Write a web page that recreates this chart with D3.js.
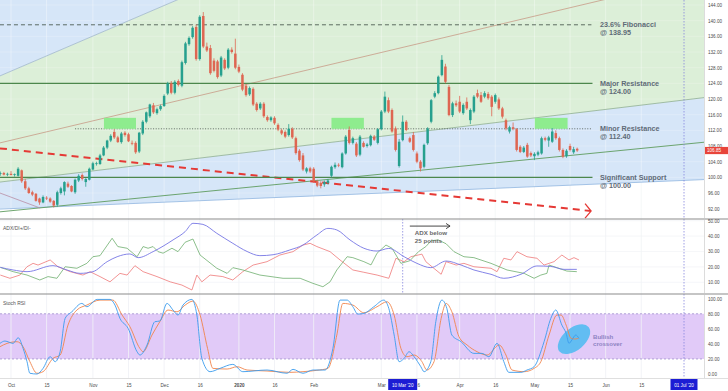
<!DOCTYPE html>
<html><head><meta charset="utf-8">
<script src="https://cdn.jsdelivr.net/npm/d3@7"></script>
<style>html,body{margin:0;padding:0;background:#fff;overflow:hidden}svg{display:block}</style>
</head><body><svg id="c" width="728" height="391"></svg>
<script>
// ---------- DATA (trading-day index: 0 = 1 Oct 2019) ----------
const firstDay = -3;
const opens = [100.9,101.1,100.7,100.9,100.6,100.4,101.8,99.0,97.2,96.2,
95.8,94.6,93.6,94.8,94.6,94.0,93.0,96.0,96.4,98.4,
97.8,96.2,99.2,100.6,98.8,99.4,102.0,103.4,103.4,105.6,
107.6,109.4,111.6,110.2,109.0,111.4,111.0,108.8,108.8,106.6,
111.2,114.2,115.6,118.4,116.4,117.4,118.2,121.4,124.0,121.6,
124.6,123.4,129.2,134.0,135.8,138.4,130.2,141.2,133.4,133.0,
129.8,129.6,126.0,130.0,128.0,132.6,131.6,128.2,126.2,123.4,
121.2,122.6,118.8,117.6,118.8,115.4,114.6,115.2,113.4,112.0,
111.6,110.8,112.4,110.0,106.8,105.6,101.5,102.3,102.2,99.0,
98.6,98.2,98.6,100.4,102.6,103.2,102.6,106.1,112.1,108.8,
108.6,105.8,108.8,108.0,108.2,110.4,108.8,112.3,116.8,119.7,
117.2,112.5,102.9,109.5,114.2,110.0,110.8,106.1,104.0,102.7,
108.7,114.2,120.6,121.5,126.1,128.3,123.1,115.9,118.9,119.3,
116.4,119.3,114.6,116.8,121.5,121.0,120.6,121.3,120.6,119.3,
119.9,117.6,114.6,111.7,112.8,112.3,107.8,106.5,108.3,106.2,
105.4,105.8,106.1,110.0,109.4,109.1,111.3,110.0,107.0,105.4,
108.0,106.4,107.3];
const highs = [101.5,101.4,101.2,101.6,101.0,102.6,102.0,99.6,97.6,96.6,
96.0,94.8,95.4,95.2,94.9,94.2,96.6,97.6,99.0,98.9,
98.0,99.7,100.8,101.0,99.8,102.5,104.0,104.0,106.0,108.0,
109.6,111.0,112.3,110.6,111.6,111.8,111.4,109.4,109.2,111.6,
114.6,116.8,118.8,119.0,117.8,118.6,121.2,124.4,124.6,124.8,
125.0,129.8,134.6,136.0,138.6,139.0,141.4,142.2,134.4,133.8,
130.4,130.0,131.0,130.4,133.0,133.2,135.4,128.8,126.6,123.8,
123.2,123.0,119.2,119.2,119.2,115.8,115.6,115.6,113.8,112.4,
112.0,113.6,112.8,110.4,107.2,106.2,102.6,102.7,102.6,99.4,
99.0,99.2,99.6,103.0,103.8,103.6,106.4,110.8,113.0,110.4,
109.0,110.8,109.2,108.8,110.9,110.8,112.6,117.2,121.9,120.4,
117.6,113.0,109.8,115.8,114.6,110.4,111.6,106.6,104.4,108.6,
112.8,120.0,122.0,126.0,131.2,129.0,123.6,119.3,119.6,120.8,
118.9,120.4,117.6,121.0,122.4,121.8,122.0,121.8,121.0,121.4,
120.4,118.0,115.0,113.2,114.0,112.6,108.2,108.0,108.8,106.6,
106.4,106.8,110.4,110.4,110.6,112.6,112.0,110.4,107.4,107.2,
108.6,107.8,107.6];
const lows = [100.4,100.5,100.3,100.5,100.2,100.2,98.6,96.8,95.8,95.2,
93.8,93.0,93.4,94.2,93.5,92.3,92.5,95.6,95.4,97.3,
96.2,95.8,98.8,99.2,97.6,99.2,101.8,103.0,103.2,105.4,
107.2,109.0,109.8,108.8,108.6,110.4,109.0,108.2,106.0,106.2,
110.8,113.8,115.2,116.2,116.0,117.0,118.0,121.0,121.2,121.2,
123.2,123.0,128.8,133.6,135.4,129.8,129.8,133.0,132.0,126.2,
126.8,125.2,125.6,127.4,127.6,131.6,127.6,126.6,122.0,120.6,
120.8,118.2,116.8,117.2,115.2,114.2,114.2,113.4,111.8,110.8,
110.0,110.4,109.8,105.8,104.0,101.6,101.0,101.1,98.6,97.5,
97.2,97.6,98.2,100.0,102.2,102.6,102.3,105.8,108.4,108.4,
105.2,105.4,107.6,107.6,107.9,109.3,108.4,112.0,116.4,116.4,
111.4,106.6,102.5,109.2,111.8,108.8,106.6,103.6,101.5,102.3,
108.3,113.8,120.2,121.2,125.8,124.0,115.6,115.4,118.0,116.4,
116.0,117.2,113.6,116.4,120.2,119.0,120.2,119.8,115.6,118.8,
117.2,115.0,112.0,111.2,112.0,106.6,106.2,106.2,105.0,105.2,
104.4,105.4,105.8,109.2,107.8,108.8,109.6,106.6,104.9,105.0,
106.6,106.0,106.5];
const closes = [101.1,100.7,100.9,100.6,100.8,102.2,99.0,97.2,96.0,95.6,
94.0,93.6,95.0,94.6,93.8,92.8,96.2,97.2,98.8,97.6,
96.4,99.4,100.4,99.6,99.6,102.2,103.6,103.6,105.6,107.6,
109.4,110.6,110.2,109.0,111.2,110.8,109.2,108.6,106.4,111.4,
114.2,116.6,118.6,116.6,117.4,118.2,120.8,124.0,121.6,124.4,
123.6,129.4,134.2,135.6,138.2,130.2,141.0,133.4,132.4,126.6,
127.2,125.6,130.6,127.8,132.6,132.0,128.0,127.0,122.4,121.0,
122.8,118.6,117.2,118.8,115.6,114.6,115.3,113.8,112.2,111.2,
110.4,112.4,110.2,106.2,104.4,102.0,102.3,101.5,99.0,97.9,
97.8,98.8,99.2,102.7,103.2,103.0,106.1,110.4,108.8,110.0,
105.6,110.4,107.8,108.4,110.6,109.6,112.3,116.8,120.6,116.8,
111.7,107.0,109.1,114.2,112.1,109.1,107.0,104.0,102.3,108.3,
112.5,119.7,121.5,125.7,130.0,124.4,115.9,118.9,118.4,116.8,
118.5,117.6,117.2,120.6,120.6,119.3,121.5,120.2,118.0,121.0,
117.6,115.5,112.5,112.8,112.4,107.0,106.5,107.6,105.3,105.6,
106.0,106.4,110.0,109.6,110.2,111.7,110.0,107.0,105.3,106.8,
107.0,107.2,106.85];
const lastPrice = 106.85;

// ADX / DI lines: [day, value]
const adx = [[-3,19.7],[0.6,18],[4.5,16.9],[11.8,20.8],[15.7,18],[19.4,15.8],[23,16.9],[27,23.4],[29.8,26.6],[33.4,28.4],[35.7,26],[39.9,29.9],[45.5,37.5],[48.9,42.9],[51.1,48.3],[53.9,47.6],[57.8,41.8],[62.3,35.3],[66.3,30],[69.9,27.3],[73.6,27.9],[78.3,31],[82,34.2],[85.9,40.7],[89,45],[91.5,44],[95.2,37.5],[99.1,32.1],[102.8,30.3],[106.1,32],[110.4,26.6],[114,22.3],[117.9,19.5],[122.2,23.8],[126.4,21.2],[130,18],[134.8,15.2],[138.4,12.6],[143.2,15.2],[147.7,20.6],[151.6,20.3],[155.3,18.4],[158.9,18.4]];
const diPlus = [[-3,19.7],[0.6,16.9],[4.5,14.7],[8.1,11.5],[10.4,13.7],[12.9,12.6],[15.2,20.1],[18.5,19.1],[21.3,22.3],[23,26.6],[25,27.3],[28.4,38.6],[30,33.2],[32.6,32.1],[35.4,26.6],[37.1,33.2],[38.5,32.1],[39.9,33.2],[41.3,29.9],[42.7,28.9],[45.2,32.1],[46.9,29.9],[48.9,36],[51.1,38.1],[53.1,27.7],[57.8,19.1],[60.7,15.8],[62.3,19.5],[65.1,18],[69.9,14.7],[76.4,12.6],[81.2,12.6],[84.8,9.3],[87.6,7.1],[89.6,10.3],[91.5,18],[94.4,26.6],[96,26],[99.1,23.4],[101.1,21.3],[102.8,28.9],[105.3,34.2],[107,32.1],[109.5,22.3],[112,24],[114.5,30],[116.5,33.2],[118,37],[120,37.5],[122.2,35],[124.4,29.9],[127.2,26.6],[130,26],[134.8,22.3],[139.3,18],[144.1,15.8],[146.9,12.6],[148.8,14.7],[150.5,15.8],[151.1,21.2],[153.3,19.5],[156.1,17.3],[158.9,16.9]];
const diMinus = [[-3,14.7],[-0.3,12.6],[2.5,14.7],[4.5,20.1],[6.2,22.3],[7.6,21.2],[11,24.5],[13.2,20.1],[16.6,16.9],[20.2,14.7],[22.2,16.9],[25,13.7],[27.8,10.3],[30.6,15.8],[32.6,14.7],[34.8,20.8],[37.1,16.9],[41,13.7],[44.7,10.3],[48,8.2],[50.8,5],[52.2,14.7],[53.6,10.3],[55.9,14.7],[59.5,13.7],[62.3,11.5],[65.1,16.9],[68,21.2],[71.9,23.4],[75.5,27.7],[79.2,29.9],[82,34.2],[84,35.3],[85.9,33.2],[89.6,29.9],[92.4,24.5],[96,18],[99.1,16.5],[102.8,14.7],[106.1,12.6],[108.1,25.6],[110.4,23.4],[112.3,26.6],[115.4,28.3],[116.5,23.4],[120.8,15.2],[122.2,23.4],[125,21.2],[127.2,22.3],[130,20.1],[134.8,19.1],[136.5,16.9],[138.4,25.6],[140.4,24.5],[142.1,29.9],[144.9,26.6],[147.7,25.6],[149.7,21.2],[152.5,23.4],[154.7,27.7],[156.7,24.5],[158.1,26],[159.5,24.5]];

// Stoch RSI: [day, value]
const stochK = [[-3.1,40.7],[-1.7,43.8],[0.6,40.7],[2,48.2],[3.4,34],[4.5,16.4],[5.3,1],[7.3,0],[9,7.5],[11,23],[12.4,16.4],[13.8,29.6],[15.2,73.9],[17.1,82.7],[19.9,93.8],[21.3,89.4],[24.2,99.1],[27.8,99.1],[29.2,91.6],[30.6,73.9],[32.9,60.6],[35.4,29.6],[36.2,25.2],[38.2,38.5],[40.4,69.5],[41.8,70.4],[43.8,93.8],[45.5,85],[46.9,78.3],[48.3,91.6],[50.8,99.1],[52.2,78.3],[53.6,20.8],[55.9,3.1],[58.7,7.5],[62.3,12.8],[65.1,3.1],[71.9,5.3],[77.5,1],[79.2,6.2],[82,1],[84.8,5.3],[88.2,5.3],[90.4,34],[92.4,98.2],[94.4,98.2],[96,89.4],[97.4,79.6],[99.1,80.5],[101.9,89.4],[104.7,98.2],[106.1,87.2],[107.6,51.8],[109,16.4],[110.4,20.8],[111.8,29.6],[113.2,23],[115.1,9.7],[116,3.1],[117.9,16.4],[119.3,69.5],[121,98.2],[122.4,87.2],[123.8,51.8],[126.4,42.9],[130,27.4],[132.3,27.4],[134.2,23],[136.5,40.7],[138.4,16.4],[139.8,2.2],[143.2,2.2],[144.9,5.3],[146.9,9.7],[149.7,42.9],[151.6,73.9],[153,85],[154.7,65],[155.9,54],[156.7,40.7],[157.5,45.1],[158.6,51.8],[159.5,47.3]];
const stochD = [[-3.1,36.3],[-1.1,40.7],[1.7,42.9],[3.4,36.3],[5.3,16.4],[7.3,1],[9,3.1],[11.8,20.8],[13.8,25.2],[16,65],[18.5,85],[21.3,91.6],[25,98.2],[28.6,98.2],[31.2,78.3],[33.4,62.8],[36.2,34],[37.1,29.6],[39.6,51.8],[41.8,69.5],[44.1,85],[46.6,82.7],[48.9,91.6],[51.1,96.9],[53.1,78.3],[55.2,34],[56.7,7.5],[60.7,6.6],[63.5,9.7],[66.3,5.3],[71.9,4],[78.3,2.2],[82,3.1],[85.9,4.9],[89,7.5],[91.5,51.8],[93.2,93.8],[96,91.6],[99.1,81.4],[102.8,89.4],[105.6,96],[107.6,78.3],[109.5,34],[111.2,23],[113.2,25.2],[115.4,16.4],[116.8,5.3],[118.8,16.4],[120.8,73.9],[122.2,93.8],[123.8,82.7],[125.8,49.6],[128.1,38.5],[130.9,29.6],[133.7,25.2],[137.1,38.5],[139,25.2],[140.7,5.3],[144.1,3.1],[146.9,7.5],[148.8,16.4],[151.1,51.8],[153.3,78.3],[154.5,78.3],[155.9,65],[157.3,47.3],[158.6,46.5],[159.5,48.2]];

// Drawing objects: lines as [day1, price1, day2, price2]
const fanA = [-3.1,125.9,60,150.5];
const fanB = [-3.1,108.8,195,151.5];
const fanC = [-3.1,98.8,195,120.4];
const fanD = [-3.1,91.9,195,99.45];
const trendE = [-3.1,91.2,195,109.0];
const handleM = [-3.1,96.0,8.1,92.2];
const redTrend = [-3.1,107.4,162.9,91.4];
const levels = [
  {v:138.95, d0:-3.1, d1:163, kind:"dash",  l1:"23.6% Fibonacci",    l2:"@ 138.95"},
  {v:124.00, d0:-3.1, d1:163.3, kind:"solid", l1:"Major Resistance", l2:"@ 124.00"},
  {v:112.40, d0:18,  d1:163, kind:"dot",   l1:"Minor Resistance",   l2:"@ 112.40"},
  {v:100.00, d0:-3.1, d1:163.3, kind:"solid", l1:"Significant Support", l2:"@ 100.00"}
];
const zoneBoxes = [[26.1,35.1],[90,99.1],[147.1,156.3]];
const zoneTop = 115.2, zoneBottom = 112.4;

// Axis ticks
const priceTicks = [92,96,100,104,108,112,116,120,124,128,132,136,140,144];
const adxTicks = [10,20,30,40,50];
const stochTicks = [0,20,40,60,80,100];
const tickDays   = [0,10,23,33,43,53,64,74,85,104,114,126,136,147,157,167,177];
const tickLabels = ["Oct","15","Nov","15","Dec","16","2020","16","Feb","Mar","16","Apr","16","May","15","Jun","15"];
const markerDays = [110,189];
const markerLabels = ["10 Mar '20","01 Jul '20"];

// ---------- SCALES ----------
const x  = d3.scaleLinear().domain([0,189]).range([11,684]);
const yP = d3.scaleLinear().domain([89.37,145.28]).range([219,0]);
const yA = d3.scaleLinear().domain([2.4,51.1]).range([294,219]);
const yS = d3.scaleLinear().domain([-5.3,106.3]).range([378,294]);
const R = 704;
const FONT = "'Liberation Sans', Arial, sans-serif";

const svg = d3.select("#c");
svg.append("rect").attr("width",728).attr("height",391).attr("fill","#fff");
const defs = svg.append("defs");
function clip(id,x0,y0,w,h){defs.append("clipPath").attr("id",id).append("rect").attr("x",x0).attr("y",y0).attr("width",w).attr("height",h);}
clip("cp",0,0,R,219); clip("ca",0,219,R,75); clip("cs",0,294,R,84);

const at = (L,d) => L[1] + (L[3]-L[1])*(d-L[0])/(L[2]-L[0]);
const pl = d3.line().x(d=>x(d[0])).y(d=>yP(d[1]));

// ---------- PRICE PANEL ----------
const gp = svg.append("g").attr("clip-path","url(#cp)");
gp.selectAll(".vg").data(tickDays).join("line").attr("x1",d=>x(d)).attr("x2",d=>x(d)).attr("y1",0).attr("y2",219).attr("stroke","#eef0f4").attr("stroke-width",0.7);
const E0=-10,E1=200;
gp.append("path").attr("d",pl([[E0,at(fanA,E0)],[E1,at(fanA,E1)],[E1,400],[E0,400]])).attr("fill","#d6e6f8");
gp.append("path").attr("d",pl([[E0,at(fanA,E0)],[E1,at(fanA,E1)],[E1,at(fanC,E1)],[E0,at(fanC,E0)]])).attr("fill","#dcefd8");
gp.append("path").attr("d",pl([[E0,at(fanC,E0)],[E1,at(fanC,E1)],[E1,at(fanD,E1)],[E0,at(fanD,E0)]])).attr("fill","#d6e6f8");
gp.selectAll(".vg2").data(tickDays).join("line").attr("x1",d=>x(d)).attr("x2",d=>x(d)).attr("y1",0).attr("y2",219).attr("stroke","#fff").attr("stroke-opacity",0.45).attr("stroke-width",0.8);
gp.selectAll(".hg").data(priceTicks).join("line").attr("x1",0).attr("x2",R).attr("y1",d=>yP(d)).attr("y2",d=>yP(d)).attr("stroke","#fff").attr("stroke-opacity",0.3).attr("stroke-width",0.7);
function seg(L,d0,d1,color,w){gp.append("path").attr("d",pl([[d0,at(L,d0)],[d1,at(L,d1)]])).attr("stroke",color).attr("stroke-width",w).attr("fill","none");}
seg(fanA,E0,E1,"#9fb6cc",0.8);
seg(fanB,E0,E1,"#c89a86",0.8);
seg(fanC,E0,E1,"#8eae8e",0.8);
seg(fanD,E0,E1,"#8fb5df",0.8);
seg(trendE,E0,E1,"#5f9c5f",0.9);
seg(handleM,handleM[0],handleM[2],"#b98ea4",0.8);
gp.append("path").attr("d",pl([[redTrend[0],redTrend[1]],[redTrend[2],redTrend[3]]])).attr("stroke","#e53935").attr("stroke-width",2).attr("stroke-dasharray","7,5").attr("fill","none");
levels.forEach(L=>{
  const ln = gp.append("line").attr("x1",x(L.d0)).attr("x2",x(L.d1)).attr("y1",yP(L.v)).attr("y2",yP(L.v));
  if(L.kind==="dash") ln.attr("stroke","#4e5d52").attr("stroke-width",0.9).attr("stroke-dasharray","4,3");
  else if(L.kind==="dot") ln.attr("stroke","#56605a").attr("stroke-width",0.9).attr("stroke-dasharray","1,1.6");
  else ln.attr("stroke","#4c874c").attr("stroke-width",1.3);
});
gp.selectAll(".zb").data(zoneBoxes).join("rect").attr("x",d=>x(d[0])).attr("width",d=>x(d[1])-x(d[0])).attr("y",yP(zoneTop)).attr("height",yP(zoneBottom)-yP(zoneTop)).attr("fill","#8eec8e");
const candles = closes.map((c,i)=>({d:firstDay+i,o:opens[i],h:highs[i],l:lows[i],c}));
const cg = gp.append("g");
cg.selectAll("line").data(candles).join("line").attr("x1",d=>x(d.d)).attr("x2",d=>x(d.d)).attr("y1",d=>yP(d.h)).attr("y2",d=>yP(d.l)).attr("stroke",d=>d.c>=d.o?"#26a08e":"#de6652").attr("stroke-width",0.8);
cg.selectAll("rect").data(candles).join("rect").attr("x",d=>x(d.d)-1.25).attr("width",2.5).attr("y",d=>yP(Math.max(d.o,d.c))).attr("height",d=>Math.max(0.8,Math.abs(yP(d.o)-yP(d.c)))).attr("fill",d=>d.c>=d.o?"#26a08e":"#de6652");
{
  const tx=x(redTrend[2]), ty=yP(redTrend[3]);
  svg.append("path").attr("d",`M${tx-6},${ty-7.5}L${tx},${ty}L${tx-6},${ty+7}`).attr("stroke","#e53935").attr("stroke-width",1.3).attr("fill","none");
}
// level texts (two lines each)
const lt = svg.append("g").attr("font-family",FONT).attr("font-weight","bold").attr("font-size","7.2px").attr("fill","#5f6b77");
levels.forEach(L=>{
  lt.append("text").attr("x",600).attr("y",yP(L.v)+2.2).text(L.l1);
  lt.append("text").attr("x",600).attr("y",yP(L.v)+10.4).text(L.l2);
});

// ---------- ADX PANEL ----------
const ga = svg.append("g").attr("clip-path","url(#ca)");
ga.selectAll(".vg").data(tickDays).join("line").attr("x1",d=>x(d)).attr("x2",d=>x(d)).attr("y1",219).attr("y2",294).attr("stroke","#eef0f4").attr("stroke-width",0.7);
ga.selectAll(".hg").data(adxTicks).join("line").attr("x1",0).attr("x2",R).attr("y1",d=>yA(d)).attr("y2",d=>yA(d)).attr("stroke","#f1f2f6").attr("stroke-width",0.7);
ga.append("line").attr("x1",x(markerDays[0])).attr("x2",x(markerDays[0])).attr("y1",219).attr("y2",294).attr("stroke","#8585dd").attr("stroke-width",0.8).attr("stroke-dasharray","1.5,1.5");
const la = d3.line().x(d=>x(d[0])).y(d=>yA(d[1]));
ga.append("path").attr("d",la(diMinus)).attr("stroke","#ef7878").attr("stroke-width",0.8).attr("fill","none");
ga.append("path").attr("d",la(diPlus)).attr("stroke","#6fae6f").attr("stroke-width",0.8).attr("fill","none");
ga.append("path").attr("d",la.curve(d3.curveMonotoneX)(adx)).attr("stroke","#7676e4").attr("stroke-width",0.9).attr("fill","none");
svg.append("text").attr("x",3).attr("y",230).attr("font-family",FONT).attr("font-size","5px").attr("fill","#555").text("ADX/DI+/DI-");
{
  const ax0=x(112), ax1=x(123.3), ay=yA(46.5);
  svg.append("line").attr("x1",ax0).attr("x2",ax1).attr("y1",ay).attr("y2",ay).attr("stroke","#333").attr("stroke-width",0.9);
  svg.append("path").attr("d",`M${ax1-4},${ay-2.6}L${ax1},${ay}L${ax1-4},${ay+2.6}`).attr("stroke","#333").attr("stroke-width",0.9).attr("fill","none");
  const at2 = svg.append("g").attr("font-family",FONT).attr("font-weight","bold").attr("font-size","6.2px").attr("fill","#6a6a6a");
  at2.append("text").attr("x",x(113.4)).attr("y",235.4).text("ADX below");
  at2.append("text").attr("x",x(113.4)).attr("y",242.6).text("25 points");
}

// ---------- STOCH RSI PANEL ----------
const gs = svg.append("g").attr("clip-path","url(#cs)");
gs.append("rect").attr("x",0).attr("width",R).attr("y",yS(80)).attr("height",yS(20)-yS(80)).attr("fill","#e1caf8");
gs.selectAll(".vg").data(tickDays).join("line").attr("x1",d=>x(d)).attr("x2",d=>x(d)).attr("y1",294).attr("y2",378).attr("stroke","#eceef4").attr("stroke-width",0.7);
gs.selectAll(".vg3").data(tickDays).join("line").attr("x1",d=>x(d)).attr("x2",d=>x(d)).attr("y1",yS(80)).attr("y2",yS(20)).attr("stroke","#fff").attr("stroke-opacity",0.35).attr("stroke-width",0.7);
gs.selectAll(".bl").data([80,20]).join("line").attr("x1",0).attr("x2",R).attr("y1",d=>yS(d)).attr("y2",d=>yS(d)).attr("stroke","#a08fcc").attr("stroke-width",0.8).attr("stroke-dasharray","2,2");
gs.append("ellipse").attr("cx",574).attr("cy",339.2).attr("rx",19).attr("ry",11).attr("transform","rotate(-40,574,339.2)").attr("fill","#62bdf2");
const ls = d3.line().x(d=>x(d[0])).y(d=>yS(d[1])).curve(d3.curveMonotoneX);
gs.append("path").attr("d",ls(stochD)).attr("stroke","#f0844c").attr("stroke-width",0.9).attr("fill","none");
gs.append("path").attr("d",ls(stochK)).attr("stroke","#3b9ced").attr("stroke-width",0.9).attr("fill","none");
svg.append("text").attr("x",3).attr("y",305).attr("font-family",FONT).attr("font-size","5px").attr("fill","#555").text("Stoch RSI");
{
  const bt = svg.append("g").attr("font-family",FONT).attr("font-weight","bold").attr("font-size","6.1px").attr("fill","#8d83c2");
  bt.append("text").attr("x",593).attr("y",338.6).text("Bullish");
  bt.append("text").attr("x",593).attr("y",345.8).text("crossover");
}

// ---------- FRAME ----------
svg.append("line").attr("x1",x(markerDays[1])).attr("x2",x(markerDays[1])).attr("y1",0).attr("y2",378).attr("stroke","#8585dd").attr("stroke-width",0.8).attr("stroke-dasharray","1.5,1.5");
[219,294].forEach(y=>svg.append("line").attr("x1",0).attr("x2",728).attr("y1",y).attr("y2",y).attr("stroke","#8c8c8c").attr("stroke-width",1.2));
svg.append("line").attr("x1",0).attr("x2",728).attr("y1",378.5).attr("y2",378.5).attr("stroke","#c9c9c9").attr("stroke-width",0.6);
svg.append("line").attr("x1",R+0.5).attr("x2",R+0.5).attr("y1",0).attr("y2",378).attr("stroke","#c4c4c4").attr("stroke-width",0.6);

// ---------- AXES ----------
function styleAxis(g){g.select(".domain").remove();g.selectAll("text").attr("font-family",FONT).attr("font-size","4.6px").attr("fill","#4a4a4a");}
svg.append("g").attr("transform",`translate(${R+2},0)`).call(d3.axisRight(yP).tickValues(priceTicks).tickFormat(d3.format(".2f")).tickSize(0).tickPadding(2)).call(styleAxis);
svg.append("g").attr("transform",`translate(${R+2},0)`).call(d3.axisRight(yA).tickValues(adxTicks).tickFormat(d3.format(".2f")).tickSize(0).tickPadding(2)).call(styleAxis);
svg.append("g").attr("transform",`translate(${R+2},0)`).call(d3.axisRight(yS).tickValues(stochTicks).tickFormat(d3.format(".2f")).tickSize(0).tickPadding(2)).call(styleAxis);
const xa = svg.append("g").attr("transform","translate(0,385)").call(d3.axisBottom(x).tickValues(tickDays).tickFormat((d,i)=>tickLabels[i]).tickSize(0).tickPadding(0)).call(styleAxis);
xa.selectAll("text").attr("y",0).attr("dy","0.35em").attr("font-weight",(d,i)=>tickLabels[i]==="2020"?"bold":"normal");

{
  const py=yP(lastPrice);
  svg.append("rect").attr("x",R+1).attr("y",py-3.6).attr("width",728-R-1).attr("height",7.2).attr("fill","#e8443a");
  svg.append("text").attr("x",R+3).attr("y",py).attr("dy","0.35em").attr("font-family",FONT).attr("font-size","4.6px").attr("fill","#fff").text(d3.format(".2f")(lastPrice));
}
markerDays.forEach((d,i)=>{
  const cx=x(d), w = i===0?29:27;
  svg.append("rect").attr("x",cx-w/2).attr("y",379).attr("width",w).attr("height",11).attr("fill","#1d1dd4");
  svg.append("text").attr("x",cx).attr("y",385).attr("dy","0.35em").attr("text-anchor","middle").attr("font-family",FONT).attr("font-size","4.6px").attr("fill","#fff").text(markerLabels[i]);
});
</script>
</body></html>
